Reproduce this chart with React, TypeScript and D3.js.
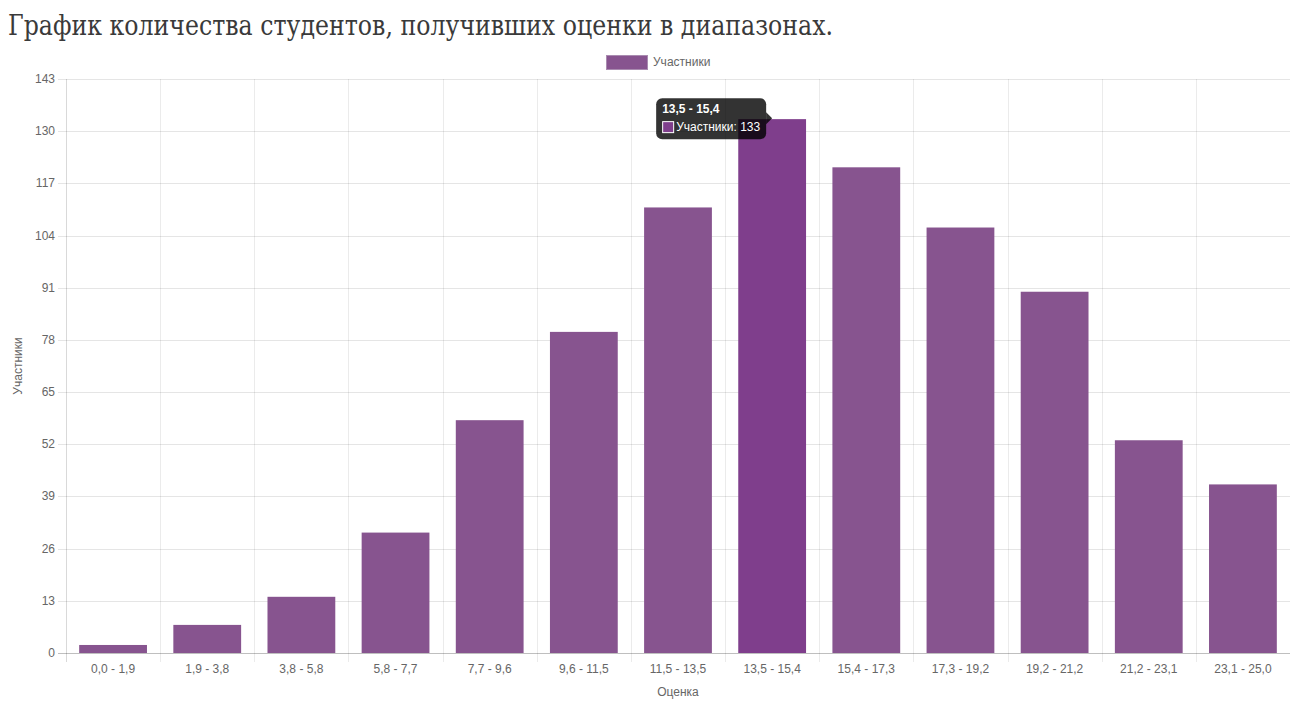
import React, { useEffect } from "react";
import * as d3 from "d3";

const categories = [
  "0,0 - 1,9", "1,9 - 3,8", "3,8 - 5,8", "5,8 - 7,7", "7,7 - 9,6", "9,6 - 11,5",
  "11,5 - 13,5", "13,5 - 15,4", "15,4 - 17,3", "17,3 - 19,2", "19,2 - 21,2",
  "21,2 - 23,1", "23,1 - 25,0",
];
const participants = [2, 7, 14, 30, 58, 80, 111, 133, 121, 106, 90, 53, 42];
const yTicks = [0, 13, 26, 39, 52, 65, 78, 91, 104, 117, 130, 143];
const title = "График количества студентов, получивших оценки в диапазонах.";
const seriesName = "Участники";
const xTitle = "Оценка";
const hoveredIndex = 7;

const W = 1304;
const H = 704;
const left = 66;
const right = 1290;
const top = 79;
const bottom = 653;
const font = "'Liberation Sans', Arial, Helvetica, sans-serif";
const barColor = "#87548f";
const hoverColor = "#7f3e8c";

export default function App() {
  useEffect(() => {
    document.body.style.margin = "0";
  }, []);

  const x = d3.scaleBand<string>().domain(categories).range([left, right]).paddingInner(0.28).paddingOuter(0.14);
  const y = d3.scaleLinear().domain([0, 143]).range([bottom, top]);
  const step = x.step();
  const gridX = d3.range(categories.length).map((i) => left + i * step);

  const hx = x(categories[hoveredIndex])! + x.bandwidth() / 2;
  const hy = y(participants[hoveredIndex]) - 1;
  const tipR = hx - 6;
  const tipW = 110;
  const tipH = 41;
  const tipL = tipR - tipW;
  const tipT = hy - 20;

  return (
    <svg width={W} height={H} style={{ display: "block" }}>
      <rect width={W} height={H} fill="#fff" />
      <text x={8} y={35} fontFamily="'DejaVu Serif', serif" fontSize={27} fill="#3a3a3a" textLength={825} lengthAdjust="spacingAndGlyphs">
        {title}
      </text>

      {/* legend */}
      <rect x={606.5} y={55.5} width={41} height={14} fill={barColor} stroke="#a98bb0" strokeWidth={1} />
      <text x={653} y={66} fontFamily={font} fontSize={12} fill="#666">{seriesName}</text>

      {/* horizontal grid */}
      {yTicks.map((t) => (
        <g key={t}>
          <line x1={58} x2={right} y1={Math.round(y(t)) + 0.5} y2={Math.round(y(t)) + 0.5}
            stroke={t === 0 ? "rgba(0,0,0,0.25)" : "rgba(0,0,0,0.1)"} />
          <text x={55} y={y(t) + 4} textAnchor="end" fontFamily={font} fontSize={12} fill="#666">{t}</text>
        </g>
      ))}

      {/* vertical grid */}
      {gridX.map((gx, i) => (
        <line key={i} x1={Math.round(gx) + 0.5} x2={Math.round(gx) + 0.5} y1={top} y2={662}
          stroke={i === 0 ? "rgba(0,0,0,0.15)" : "rgba(0,0,0,0.08)"} />
      ))}

      {/* bars */}
      {categories.map((c, i) => (
        <rect key={c} x={x(c)!} y={y(participants[i])} width={x.bandwidth()} height={bottom - y(participants[i])}
          fill={i === hoveredIndex ? hoverColor : barColor} />
      ))}

      {/* x labels */}
      {categories.map((c) => (
        <text key={c} x={x(c)! + x.bandwidth() / 2} y={673} textAnchor="middle" fontFamily={font} fontSize={12} fill="#666">{c}</text>
      ))}
      <text x={(left + right) / 2} y={696} textAnchor="middle" fontFamily={font} fontSize={12} fill="#666">{xTitle}</text>
      <text transform={`translate(22, ${(top + bottom) / 2}) rotate(-90)`} textAnchor="middle" fontFamily={font} fontSize={12} fill="#666">{seriesName}</text>

      {/* tooltip */}
      <g>
        <rect x={tipL} y={tipT} width={tipW} height={tipH} rx={6} fill="rgba(0,0,0,0.8)" />
        <path d={`M${tipR},${hy - 6} L${tipR + 6},${hy} L${tipR},${hy + 6} Z`} fill="rgba(0,0,0,0.8)" />
        <text x={tipL + 6} y={tipT + 15} fontFamily={font} fontSize={12} fontWeight="bold" fill="#fff">{categories[hoveredIndex]}</text>
        <rect x={tipL + 6.5} y={tipT + 23.5} width={11} height={11} fill={hoverColor} stroke="#fff" strokeWidth={1} />
        <text x={tipL + 20} y={tipT + 33} fontFamily={font} fontSize={12} fill="#fff">
          {seriesName}: {participants[hoveredIndex]}
        </text>
      </g>
    </svg>
  );
}
